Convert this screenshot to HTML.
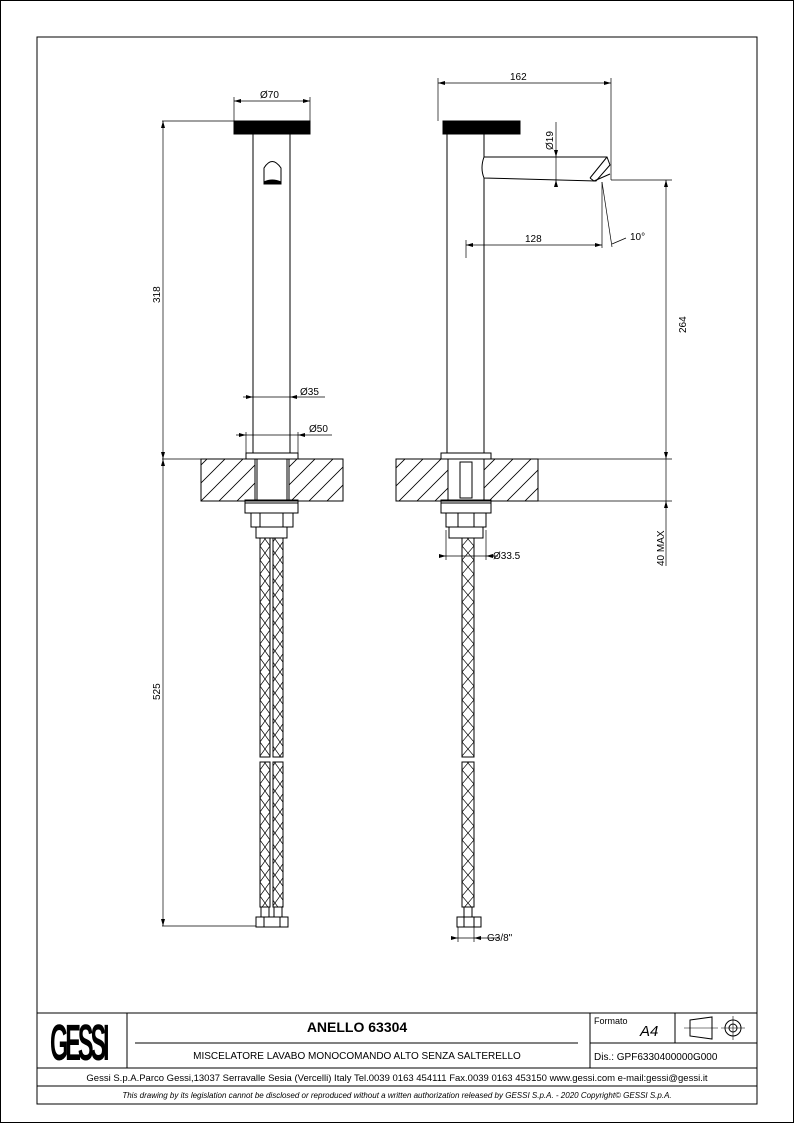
<!DOCTYPE html>
<html><head><meta charset="utf-8"><style>
html,body{margin:0;padding:0;background:#fff}
svg{display:block}
text{font-family:"Liberation Sans",Arial,sans-serif;fill:#000}
</style></head><body>
<svg width="794" height="1123" viewBox="0 0 794 1123" xmlns="http://www.w3.org/2000/svg">
<defs>
<pattern id="hatch" patternUnits="userSpaceOnUse" width="18" height="18">
<path d="M-4,22 L22,-4 M-4,4 L4,-4 M14,22 L22,14" stroke="#000" stroke-width="0.8"/>
</pattern>
<pattern id="braid" patternUnits="userSpaceOnUse" width="10" height="14">
<path d="M0,0 L10,14 M10,0 L0,14" stroke="#000" stroke-width="0.7" fill="none"/>
</pattern>
<pattern id="braid2" patternUnits="userSpaceOnUse" width="12" height="14" x="462">
<path d="M0,0 L12,14 M12,0 L0,14" stroke="#000" stroke-width="0.7" fill="none"/>
</pattern>
</defs>
<rect x="0.5" y="0.5" width="793" height="1122" fill="none" stroke="#000"/>
<g fill="none" stroke="#000" stroke-width="1">
<rect x="37" y="37" width="720" height="1067"/>
<line x1="37" y1="1013" x2="757" y2="1013"/>
<line x1="37" y1="1068" x2="757" y2="1068"/>
<line x1="37" y1="1086" x2="757" y2="1086"/>
<line x1="127" y1="1013" x2="127" y2="1068"/>
<line x1="590" y1="1013" x2="590" y2="1068"/>
<line x1="590" y1="1043" x2="757" y2="1043"/>
<line x1="675" y1="1013" x2="675" y2="1043"/>
<line x1="135" y1="1043" x2="578" y2="1043"/>

<rect x="234" y="121" width="76" height="13" fill="#000"/>
<rect x="253" y="134" width="37" height="319"/>
<path d="M264,182 L264,168 Q272,155 281,168 L281,182" />
<path d="M264,182 Q272,178 281,182 L281,184 L264,184Z" fill="#000"/>
<rect x="246" y="453" width="52" height="6"/>
<rect x="201" y="459" width="142" height="42" fill="url(#hatch)"/>
<rect x="255" y="459" width="34" height="42" fill="#fff"/>
<line x1="257" y1="459" x2="257" y2="501"/><line x1="287" y1="459" x2="287" y2="501"/>
<rect x="245" y="500" width="53" height="13"/>
<line x1="245" y1="503" x2="298" y2="503"/>
<rect x="251" y="513" width="42" height="14"/>
<line x1="260" y1="513" x2="260" y2="527"/><line x1="283" y1="513" x2="283" y2="527"/>
<rect x="256" y="527" width="31" height="11"/>
<rect x="260" y="538" width="10" height="219" fill="url(#braid)"/>
<rect x="273" y="538" width="10" height="219" fill="url(#braid)"/>
<rect x="260" y="762" width="10" height="145" fill="url(#braid)"/>
<rect x="273" y="762" width="10" height="145" fill="url(#braid)"/>
<rect x="261" y="907" width="8" height="10"/><rect x="274" y="907" width="8" height="10"/>
<rect x="256" y="917" width="32" height="10"/>
<line x1="264" y1="917" x2="264" y2="927"/><line x1="280" y1="917" x2="280" y2="927"/>
<line x1="162" y1="121" x2="234" y2="121" stroke-width="0.7"/>
<line x1="162" y1="459" x2="201" y2="459" stroke-width="0.7"/>
<line x1="162" y1="926" x2="256" y2="926" stroke-width="0.7"/>
<line x1="163" y1="121" x2="163" y2="926" stroke-width="0.7"/>
<line x1="234" y1="97" x2="234" y2="121" stroke-width="0.7"/>
<line x1="310" y1="97" x2="310" y2="121" stroke-width="0.7"/>
<line x1="234" y1="101" x2="310" y2="101" stroke-width="0.7"/>
<line x1="243" y1="397" x2="325" y2="397" stroke-width="0.7"/>
<line x1="236" y1="435" x2="332" y2="435" stroke-width="0.7"/>
<line x1="246" y1="432" x2="246" y2="453" stroke-width="0.7"/>
<line x1="298" y1="432" x2="298" y2="453" stroke-width="0.7"/>

<rect x="443" y="121" width="77" height="13" fill="#000"/>
<rect x="447" y="134" width="37" height="319"/>
<path d="M484,157 L607,157 L610,165 L596,181 L484,178 Q480,168 484,157Z" fill="#fff"/>
<path d="M590,178 L607,157 M590,178 L594,181 L610,174" />
<rect x="441" y="453" width="50" height="6"/>
<rect x="396" y="459" width="142" height="42" fill="url(#hatch)"/>
<rect x="448" y="459" width="36" height="42" fill="#fff"/>
<rect x="460" y="462" width="12" height="36"/>
<rect x="441" y="500" width="50" height="13"/>
<line x1="441" y1="503" x2="491" y2="503"/>
<rect x="446" y="513" width="40" height="14"/>
<line x1="458" y1="513" x2="458" y2="527"/><line x1="474" y1="513" x2="474" y2="527"/>
<rect x="449" y="527" width="34" height="11"/>
<rect x="462" y="538" width="12" height="219" fill="url(#braid2)"/>
<rect x="462" y="762" width="12" height="145" fill="url(#braid2)"/>
<rect x="464" y="907" width="8" height="10"/>
<rect x="457" y="917" width="24" height="10"/>
<line x1="464" y1="917" x2="464" y2="927"/><line x1="474" y1="917" x2="474" y2="927"/>
<line x1="438" y1="78" x2="438" y2="121" stroke-width="0.7"/>
<line x1="611" y1="78" x2="611" y2="180" stroke-width="0.7"/>
<line x1="438" y1="83" x2="611" y2="83" stroke-width="0.7"/>
<line x1="611" y1="180" x2="672" y2="180" stroke-width="0.7"/>
<line x1="538" y1="459" x2="672" y2="459" stroke-width="0.7"/>
<line x1="538" y1="501" x2="672" y2="501" stroke-width="0.7"/>
<line x1="666" y1="180" x2="666" y2="566" stroke-width="0.7"/>
<line x1="556" y1="122" x2="556" y2="185" stroke-width="0.7"/>
<line x1="466" y1="240" x2="466" y2="258" stroke-width="0.7"/>
<line x1="466" y1="245" x2="602" y2="245" stroke-width="0.7"/>
<line x1="602" y1="182" x2="602" y2="248" stroke-width="0.7"/>
<line x1="602" y1="182" x2="612" y2="247" stroke-width="0.7"/>
<line x1="612" y1="244" x2="626" y2="238" stroke-width="0.7"/>
<line x1="439" y1="556" x2="498" y2="556" stroke-width="0.7"/>
<line x1="446" y1="530" x2="446" y2="560" stroke-width="0.7"/>
<line x1="486" y1="530" x2="486" y2="560" stroke-width="0.7"/>
<line x1="458" y1="927" x2="458" y2="942" stroke-width="0.7"/>
<line x1="474" y1="927" x2="474" y2="942" stroke-width="0.7"/>
<line x1="452" y1="938" x2="500" y2="938" stroke-width="0.7"/>
<path d="M690,1020 L712,1017 L712,1039 L690,1036Z"/>
<line x1="684" y1="1028" x2="718" y2="1028" stroke-width="0.6"/>
<circle cx="733" cy="1028" r="8"/><circle cx="733" cy="1028" r="4"/>
<line x1="721" y1="1028" x2="745" y2="1028" stroke-width="0.6"/>
<line x1="733" y1="1016" x2="733" y2="1040" stroke-width="0.6"/>
</g>
<g fill="#000">
<path d="M234,101 l7,-2 v4z M310,101 l-7,-2 v4z"/>
<path d="M438,83 l7,-2 v4z M611,83 l-7,-2 v4z"/>
<path d="M466,245 l7,-2 v4z M602,245 l-7,-2 v4z"/>
<path d="M253,397 l-7,-2 v4z M290,397 l7,-2 v4z"/>
<path d="M246,435 l-7,-2 v4z M298,435 l7,-2 v4z"/>
<path d="M446,556 l-7,-2 v4z M486,556 l7,-2 v4z"/>
<path d="M458,938 l-7,-2 v4z M474,938 l7,-2 v4z"/>
<path d="M163,121 l-2,7 h4z M163,459 l-2,-7 h4z M163,459 l-2,7 h4z M163,926 l-2,-7 h4z"/>
<path d="M666,180 l-2,7 h4z M666,459 l-2,-7 h4z M666,501 l-2,7 h4z"/>
<path d="M556,157 l-2,-7 h4z M556,180 l-2,7 h4z"/>
</g>
<g font-size="10">
<text x="260" y="98">Ø70</text>
<text x="300" y="395">Ø35</text>
<text x="309" y="432">Ø50</text>
<text x="510" y="80">162</text>
<text x="525" y="242">128</text>
<text x="630" y="240">10°</text>
<text x="493" y="559">Ø33.5</text>
<text x="487" y="941">G3/8"</text>
<text transform="translate(160,303) rotate(-90)">318</text>
<text transform="translate(160,700) rotate(-90)">525</text>
<text transform="translate(686,333) rotate(-90)">264</text>
<text transform="translate(664,566) rotate(-90)">40 MAX</text>
<text transform="translate(553,150) rotate(-90)">Ø19</text>
</g>
<text transform="translate(50,1060) scale(0.62,1.35)" font-size="38" font-weight="bold" style="letter-spacing:-5px">GESSI</text>
<text x="357" y="1032" font-size="14" font-weight="bold" text-anchor="middle">ANELLO 63304</text>
<text x="357" y="1059" font-size="10" text-anchor="middle">MISCELATORE LAVABO MONOCOMANDO ALTO SENZA SALTERELLO</text>
<text x="594" y="1024" font-size="9">Formato</text>
<text x="640" y="1036" font-size="15" font-style="italic">A4</text>
<text x="594" y="1060" font-size="10">Dis.: GPF6330400000G000</text>
<text x="397" y="1081" font-size="9.5" text-anchor="middle">Gessi S.p.A.Parco Gessi,13037 Serravalle Sesia (Vercelli) Italy Tel.0039 0163 454111 Fax.0039 0163 453150 www.gessi.com e-mail:gessi@gessi.it</text>
<text x="397" y="1098" font-size="8" font-style="italic" text-anchor="middle">This drawing by its legislation cannot be disclosed or reproduced without a written authorization released by GESSI S.p.A. - 2020 Copyright© GESSI S.p.A.</text>
</svg>
</body></html>
